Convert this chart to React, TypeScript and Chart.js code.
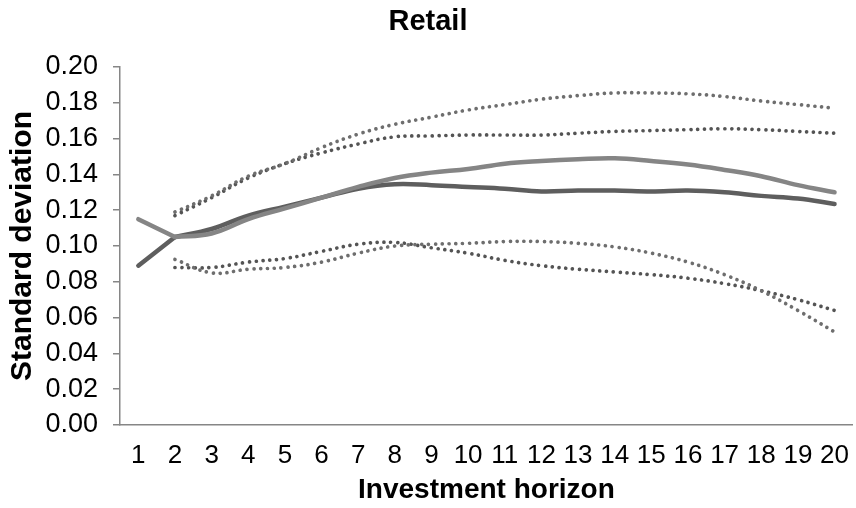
import React, { useEffect, useRef } from "react";
import { Chart, registerables } from "chart.js";

Chart.register(...registerables);

const categories = ["1", "2", "3", "4", "5", "6", "7", "8", "9", "10", "11", "12", "13", "14", "15", "16", "17", "18", "19", "20"];

const solidLight = [0.115, 0.105, 0.107, 0.115, 0.121, 0.127, 0.133, 0.138, 0.141, 0.143, 0.146, 0.1475, 0.1485, 0.149, 0.1475, 0.1455, 0.1425, 0.139, 0.134, 0.130];
const solidDark = [0.089, 0.105, 0.1095, 0.117, 0.122, 0.127, 0.132, 0.1345, 0.134, 0.133, 0.132, 0.1305, 0.131, 0.131, 0.1305, 0.131, 0.130, 0.128, 0.1265, 0.1235];
const upperLight = [null, 0.119, 0.128, 0.139, 0.146, 0.155, 0.1625, 0.168, 0.172, 0.176, 0.179, 0.182, 0.184, 0.1855, 0.1855, 0.185, 0.1835, 0.181, 0.179, 0.177];
const upperDark = [null, 0.117, 0.127, 0.138, 0.146, 0.152, 0.157, 0.161, 0.1615, 0.162, 0.162, 0.162, 0.163, 0.164, 0.1645, 0.165, 0.1655, 0.165, 0.164, 0.163];
const lowerLight = [null, 0.0925, 0.085, 0.087, 0.088, 0.091, 0.096, 0.100, 0.101, 0.1015, 0.1025, 0.1025, 0.1015, 0.0995, 0.096, 0.091, 0.084, 0.075, 0.064, 0.052];
const lowerDark = [null, 0.088, 0.088, 0.091, 0.093, 0.097, 0.101, 0.102, 0.099, 0.096, 0.092, 0.089, 0.087, 0.0855, 0.084, 0.082, 0.079, 0.075, 0.070, 0.064];

const yTicks = [0, 0.02, 0.04, 0.06, 0.08, 0.1, 0.12, 0.14, 0.16, 0.18, 0.2];

const FONT = "'Liberation Sans', Arial, sans-serif";
const AXIS = "#868686";

export default function App() {
  const ref = useRef<HTMLCanvasElement | null>(null);
  useEffect(() => {
    document.body.style.margin = "0";
    const ctx = ref.current!;
    const solidStyle = (color: string) => ({
      borderColor: color,
      backgroundColor: color,
      borderWidth: 4.5,
      pointRadius: 0,
      borderCapStyle: "round" as const,
      borderJoinStyle: "round" as const,
      fill: false,
    });
    // first segment straight, remaining segments smoothed
    const solidHead = (data: (number | null)[], color: string) => ({
      ...solidStyle(color),
      data: data.map((v, i) => (i <= 1 ? v : null)),
      tension: 0,
    });
    const solidTail = (data: (number | null)[], color: string) => ({
      ...solidStyle(color),
      data: data.map((v, i) => (i >= 1 ? v : null)),
      tension: 0.4,
    });
    const dotted = (data: (number | null)[], color: string) => ({
      data,
      borderColor: color,
      backgroundColor: color,
      borderWidth: 3.7,
      borderDash: [0.01, 6.8],
      borderCapStyle: "round" as const,
      pointRadius: 0,
      tension: 0.4,
      fill: false,
    });
    const chart = new Chart(ctx, {
      type: "line",
      data: {
        labels: categories,
        datasets: [
          dotted(upperLight, "#6e6e6e"),
          dotted(upperDark, "#545454"),
          dotted(lowerLight, "#6e6e6e"),
          dotted(lowerDark, "#545454"),
          solidHead(solidLight, "#858585"),
          solidTail(solidLight, "#858585"),
          solidHead(solidDark, "#5e5e5e"),
          solidTail(solidDark, "#5e5e5e"),
        ],
      },
      options: {
        animation: false,
        responsive: true,
        maintainAspectRatio: false,
        layout: { padding: { top: 0, left: 0, right: 0, bottom: 0 } },
        plugins: {
          legend: { display: false },
          tooltip: { enabled: false },
          title: {
            display: true,
            text: "Retail",
            color: "#000",
            font: { family: FONT, size: 29, weight: "bold" },
            padding: { top: 5, bottom: 27.2 },
          },
        },
        scales: {
          x: {
            type: "category",
            offset: true,
            grid: { display: false },
            border: { display: true, color: AXIS, width: 1.5 },
            ticks: {
              color: "#000",
              font: { family: FONT, size: 26 },
              padding: 7,
              maxRotation: 0,
              autoSkip: false,
            },
            title: {
              display: true,
              text: "Investment horizon",
              color: "#000",
              font: { family: FONT, size: 28, weight: "bold" },
              padding: { top: 0, bottom: 1 },
            },
            afterFit: (s: any) => {
              s.height = 83;
            },
          },
          y: {
            min: 0,
            max: 0.2,
            afterBuildTicks: (s: any) => {
              s.ticks = yTicks.map((v) => ({ value: v }));
            },
            grid: {
              drawOnChartArea: false,
              drawTicks: true,
              tickLength: 7,
              color: AXIS,
              lineWidth: 1.5,
            },
            border: { display: true, color: AXIS, width: 1.5 },
            ticks: {
              color: "#000",
              font: { family: FONT, size: 27 },
              padding: 15,
              callback: (v: any) => Number(v).toFixed(2),
            },
            title: {
              display: true,
              text: "Standard deviation",
              color: "#000",
              font: { family: FONT, size: 30, weight: "bold" },
              padding: { top: 5, bottom: 0 },
            },
            afterFit: (s: any) => {
              s.width = 120;
            },
          },
        },
      },
    });
    return () => chart.destroy();
  }, []);
  return (
    <div style={{ width: 856, height: 508, position: "relative" }}>
      <canvas ref={ref} />
    </div>
  );
}
